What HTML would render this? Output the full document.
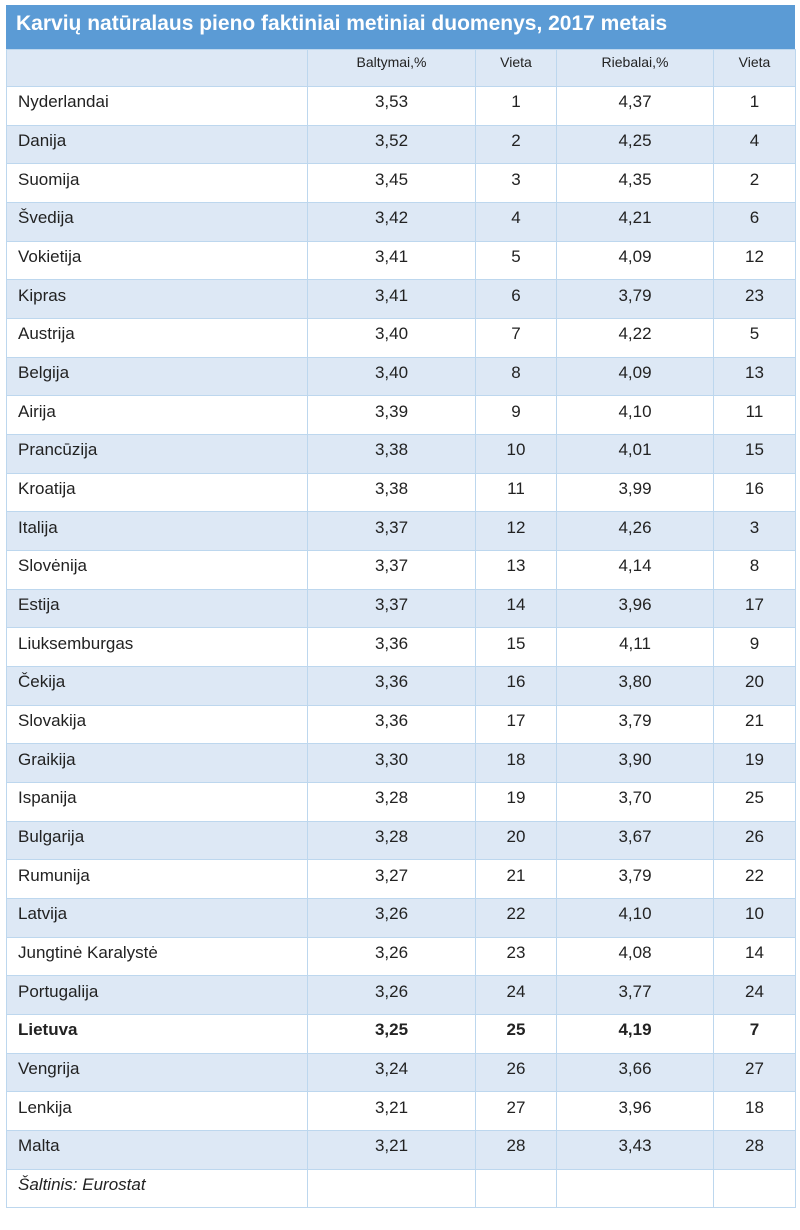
<!DOCTYPE html>
<html><head><meta charset="utf-8"><style>
body{margin:0;background:#fff;width:800px;height:1230px;font-family:"Liberation Sans",sans-serif;}
.t{position:absolute;left:6px;top:5px;width:789px;height:44px;background:#5b9bd5;color:#fff;font-weight:bold;font-size:21px;line-height:38px;padding-left:10px;box-sizing:border-box;}
table{position:absolute;left:6px;top:49px;border-collapse:collapse;table-layout:fixed;width:789px;}
td{border:1px solid #bdd7ee;height:38.68px;padding:0 0 7px 0;font-size:17px;color:#222;text-align:center;box-sizing:border-box;}
td:first-child{text-align:left;padding-left:11px;}
tr:nth-child(odd) td{background:#dde8f5;}
tr.h td{height:37px;font-size:14px;padding-bottom:12px;}
tr.h td{background:#dde8f5;}
tr.b td{font-weight:bold;}
tr.s td{background:#fff;height:38px;font-style:italic;}
</style></head><body>
<div class="t">Karvių natūralaus pieno faktiniai metiniai duomenys, 2017 metais</div>
<table>
<colgroup><col style="width:301px"><col style="width:168px"><col style="width:81px"><col style="width:157px"><col style="width:82px"></colgroup>
<tr class="h"><td></td><td>Baltymai,%</td><td>Vieta</td><td>Riebalai,%</td><td>Vieta</td></tr>
<tr><td>Nyderlandai</td><td>3,53</td><td>1</td><td>4,37</td><td>1</td></tr>
<tr><td>Danija</td><td>3,52</td><td>2</td><td>4,25</td><td>4</td></tr>
<tr><td>Suomija</td><td>3,45</td><td>3</td><td>4,35</td><td>2</td></tr>
<tr><td>Švedija</td><td>3,42</td><td>4</td><td>4,21</td><td>6</td></tr>
<tr><td>Vokietija</td><td>3,41</td><td>5</td><td>4,09</td><td>12</td></tr>
<tr><td>Kipras</td><td>3,41</td><td>6</td><td>3,79</td><td>23</td></tr>
<tr><td>Austrija</td><td>3,40</td><td>7</td><td>4,22</td><td>5</td></tr>
<tr><td>Belgija</td><td>3,40</td><td>8</td><td>4,09</td><td>13</td></tr>
<tr><td>Airija</td><td>3,39</td><td>9</td><td>4,10</td><td>11</td></tr>
<tr><td>Prancūzija</td><td>3,38</td><td>10</td><td>4,01</td><td>15</td></tr>
<tr><td>Kroatija</td><td>3,38</td><td>11</td><td>3,99</td><td>16</td></tr>
<tr><td>Italija</td><td>3,37</td><td>12</td><td>4,26</td><td>3</td></tr>
<tr><td>Slovėnija</td><td>3,37</td><td>13</td><td>4,14</td><td>8</td></tr>
<tr><td>Estija</td><td>3,37</td><td>14</td><td>3,96</td><td>17</td></tr>
<tr><td>Liuksemburgas</td><td>3,36</td><td>15</td><td>4,11</td><td>9</td></tr>
<tr><td>Čekija</td><td>3,36</td><td>16</td><td>3,80</td><td>20</td></tr>
<tr><td>Slovakija</td><td>3,36</td><td>17</td><td>3,79</td><td>21</td></tr>
<tr><td>Graikija</td><td>3,30</td><td>18</td><td>3,90</td><td>19</td></tr>
<tr><td>Ispanija</td><td>3,28</td><td>19</td><td>3,70</td><td>25</td></tr>
<tr><td>Bulgarija</td><td>3,28</td><td>20</td><td>3,67</td><td>26</td></tr>
<tr><td>Rumunija</td><td>3,27</td><td>21</td><td>3,79</td><td>22</td></tr>
<tr><td>Latvija</td><td>3,26</td><td>22</td><td>4,10</td><td>10</td></tr>
<tr><td>Jungtinė Karalystė</td><td>3,26</td><td>23</td><td>4,08</td><td>14</td></tr>
<tr><td>Portugalija</td><td>3,26</td><td>24</td><td>3,77</td><td>24</td></tr>
<tr class="b"><td>Lietuva</td><td>3,25</td><td>25</td><td>4,19</td><td>7</td></tr>
<tr><td>Vengrija</td><td>3,24</td><td>26</td><td>3,66</td><td>27</td></tr>
<tr><td>Lenkija</td><td>3,21</td><td>27</td><td>3,96</td><td>18</td></tr>
<tr><td>Malta</td><td>3,21</td><td>28</td><td>3,43</td><td>28</td></tr>
<tr class="s"><td>Šaltinis: Eurostat</td><td></td><td></td><td></td><td></td></tr>
</table>
</body></html>
